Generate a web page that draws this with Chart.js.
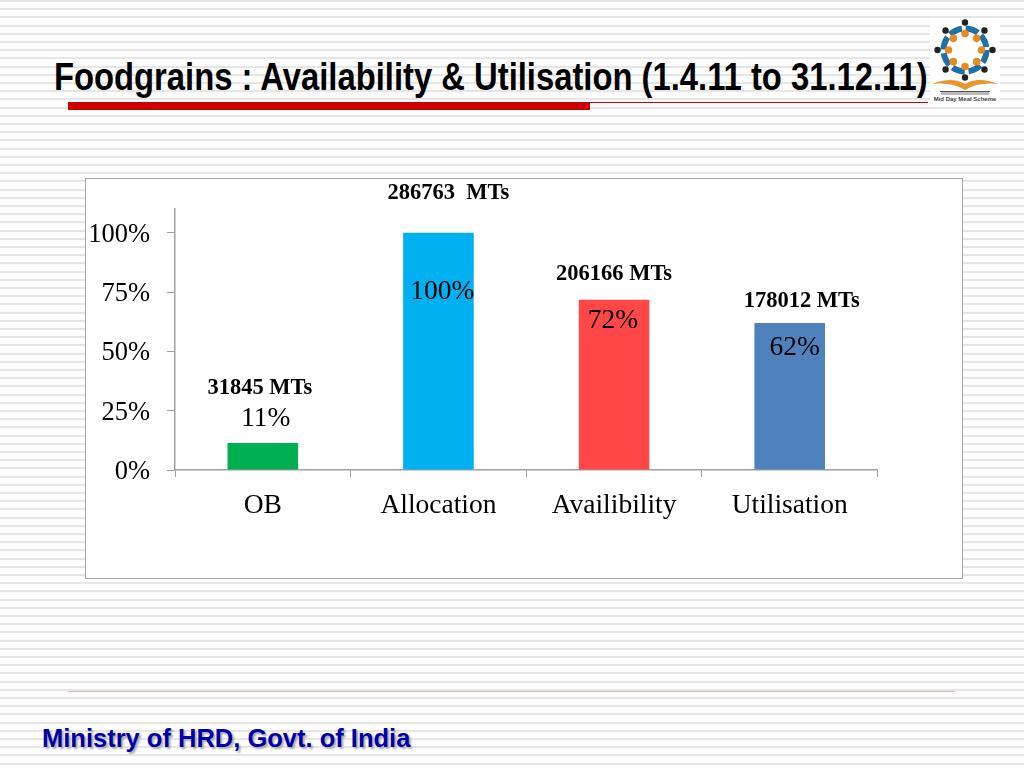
<!DOCTYPE html>
<html>
<head>
<meta charset="utf-8">
<title>Foodgrains</title>
<script src="https://cdn.jsdelivr.net/npm/chart.js@4"></script>
<style>
  html, body { margin: 0; padding: 0; }
  body {
    width: 1024px; height: 768px; position: relative; overflow: hidden;
    background: repeating-linear-gradient(to bottom, #e6e6e6 0, #e6e6e6 2px, #fdfdfd 2px, #fdfdfd 8.2px);
  }
  #title {
    position: absolute; left: 54px; top: 55px; white-space: nowrap; transform-origin: left top;
    font: bold 39px "Liberation Sans", sans-serif; color: #000;
  }
  #bar-red { position: absolute; left: 68px; top: 102px; width: 522px; height: 8px; background: #cc0000; }
  #line-red { position: absolute; left: 590px; top: 102px; width: 338px; height: 1px; background: #cc0000; }
  #logo { position: absolute; left: 930px; top: 18px; }
  #panel {
    position: absolute; left: 85px; top: 178px; width: 878px; height: 401px;
    background: #fff; box-sizing: border-box; border: 1.5px solid #a6a6a6;
  }
  #chart { position: absolute; left: 85px; top: 178px; }
  #rule { position: absolute; left: 68px; top: 691px; width: 887px; height: 1px; background: #dcb8b0; }
  #footer {
    position: absolute; left: 42px; top: 724px; white-space: nowrap;
    font: bold 25.5px "Liberation Sans", sans-serif; color: #0000a8; text-shadow: 2px 2px 2px #aaa;
  }
</style>
</head>
<body>
<div id="title">Foodgrains : Availability &amp; Utilisation (1.4.11 to 31.12.11)</div>
<div id="bar-red"></div>
<div id="line-red"></div>
<svg id="logo" width="70" height="87" viewBox="0 0 70 87"></svg>
<div id="panel"></div>
<canvas id="chart" width="878" height="401"></canvas>
<div id="rule"></div>
<div id="footer">Ministry of HRD, Govt. of India</div>

<script>
// ===== DADOS =====
const categories = ['OB', 'Allocation', 'Availibility', 'Utilisation'];
const percentValues = [11.4, 100, 71.8, 62];
const barColors = ['#00b050', '#00b0f0', '#ff4747', '#4f81bd'];
const percentLabels = ['11%', '100%', '72%', '62%'];
const tonnageLabels = ['31845 MTs', '286763  MTs', '206166 MTs', '178012 MTs'];
const yTicks = [0, 25, 50, 75, 100];

// deslocamento dos rótulos em relação ao topo de cada barra
const percentOffsets = [[3, -17], [4, 66], [-1, 28], [5, 32]];
const tonnageOffsets = [[-3, -49], [10, -34], [0, -20], [12, -16]];

// ===== TÍTULO =====
// fonte estreita não está instalada, então comprime na horizontal
const title = document.getElementById('title');
title.style.transform = `scaleX(${874 / title.offsetWidth})`;

// ===== LOGO =====
const logo = document.getElementById('logo');
let logoSvg = '<rect width="70" height="87" fill="#fff"/>';
logoSvg += '<circle cx="35" cy="32" r="21.5" fill="none" stroke="#1f6fa8" stroke-width="6" stroke-dasharray="13 3.9"/>';
for (let i = 0; i < 8; i++) {
  const a = i * Math.PI / 4;
  logoSvg += `<circle cx="${35 + 27.5 * Math.sin(a)}" cy="${32 - 27.5 * Math.cos(a)}" r="3.2" fill="#222"/>`;
  logoSvg += `<circle cx="${35 + 16.5 * Math.sin(a)}" cy="${32 - 16.5 * Math.cos(a)}" r="3.8" fill="#e88a1e"/>`;
}
logoSvg += '<path d="M2 66 Q22 58 35 66 Q48 58 68 66 Q48 64 35 72 Q22 64 2 66 Z" fill="#e8962e"/>';
logoSvg += '<rect x="10" y="73" width="50" height="1" fill="#555"/><rect x="11" y="74" width="48" height="3" fill="#bbb"/>';
logoSvg += '<text x="35" y="83" text-anchor="middle" font-family="Liberation Sans" font-size="6" font-weight="bold" fill="#444">Mid Day Meal Scheme</text>';
logo.innerHTML = logoSvg;

// ===== RÓTULOS DAS BARRAS =====
const barLabels = {
  id: 'barLabels',
  afterDatasetsDraw(chart) {
    const { ctx } = chart;
    const bars = chart.getDatasetMeta(0).data;
    ctx.save();
    ctx.fillStyle = '#000';
    ctx.textAlign = 'center';
    ctx.textBaseline = 'alphabetic';
    bars.forEach((bar, i) => {
      ctx.font = '27.5px "Liberation Serif", serif';
      ctx.fillText(percentLabels[i], bar.x + percentOffsets[i][0], bar.y + percentOffsets[i][1]);
      ctx.font = 'bold 22.5px "Liberation Serif", serif';
      ctx.fillText(tonnageLabels[i], bar.x + tonnageOffsets[i][0], bar.y + tonnageOffsets[i][1]);
    });
    ctx.restore();
  }
};

// ===== GRÁFICO =====
new Chart(document.getElementById('chart').getContext('2d'), {
  type: 'bar',
  data: {
    labels: categories,
    datasets: [{ data: percentValues, backgroundColor: barColors, barPercentage: 0.402, categoryPercentage: 1 }]
  },
  options: {
    responsive: false,
    animation: false,
    layout: { padding: { top: 31, right: 85.5 } },
    plugins: { legend: { display: false }, tooltip: { enabled: false } },
    scales: {
      x: {
        afterFit: s => { s.height = 109; },
        border: { color: '#a0a0a0', width: 1.5 },
        grid: { drawOnChartArea: false, color: '#a0a0a0', tickLength: 7 },
        ticks: { color: '#000', font: { family: '"Liberation Serif", serif', size: 27.5 }, padding: 12 }
      },
      y: {
        min: 0,
        max: 110,
        // o padding dos ticks não pode empurrar o topo da área do gráfico
        afterFit: s => { s.width = 90; s.paddingTop = 0; s.paddingBottom = 0; },
        afterBuildTicks: s => { s.ticks = yTicks.map(v => ({ value: v })); },
        border: { color: '#a0a0a0', width: 1.5 },
        grid: { drawOnChartArea: false, color: '#a0a0a0', tickLength: 8 },
        ticks: { color: '#000', font: { family: '"Liberation Serif", serif', size: 26.5 }, padding: 17, labelOffset: 2, callback: v => v + '%' }
      }
    }
  },
  plugins: [barLabels]
});
</script>
</body>
</html>
